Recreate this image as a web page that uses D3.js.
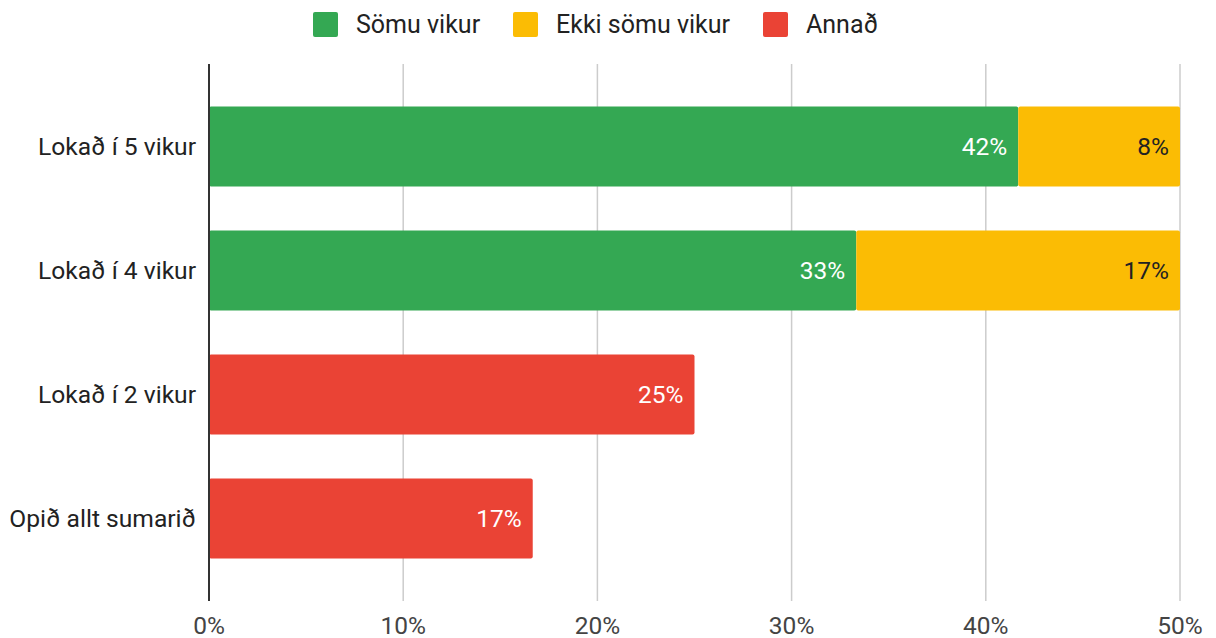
<!DOCTYPE html>
<html>
<head>
<meta charset="utf-8">
<script src="https://cdn.jsdelivr.net/npm/d3@7"></script>
<style>
  body { margin: 0; background: #fff; }
  svg { display: block; font-family: Roboto, "Liberation Sans", Arial, sans-serif; }
</style>
</head>
<body>
<svg id="chart"></svg>
<script>
// data
const categories = ['Lokað í 5 vikur', 'Lokað í 4 vikur', 'Lokað í 2 vikur', 'Opið allt sumarið']
const seriesNames = ['Sömu vikur', 'Ekki sömu vikur', 'Annað']
const someVikur = [41.67, 33.33, 0, 0]
const ekkiSomuVikur = [8.33, 16.67, 0, 0]
const annad = [0, 0, 25, 16.67]
const xTicks = [0, 10, 20, 30, 40, 50]

const colors = ['#34a853', '#fbbc04', '#ea4335']
const labelColors = ['#fff', '#222', '#fff']

const w = 1216
const h = 638
const margin = { top: 64, right: 36, bottom: 37, left: 209 }

const svg = d3.select('#chart')
  .attr('width', w)
  .attr('height', h)

const rows = categories.map((c, i) => ({
  cat: c,
  'Sömu vikur': someVikur[i],
  'Ekki sömu vikur': ekkiSomuVikur[i],
  'Annað': annad[i]
}))
const stacked = d3.stack().keys(seriesNames)(rows)

const xScale = d3.scaleLinear()
  .domain([0, 50])
  .range([margin.left, 1180])

const yScale = d3.scaleBand()
  .domain(categories)
  .range([margin.top, h - margin.bottom])
  .paddingInner(0.355)
  .paddingOuter(0.343)

// gridlines
svg.append('g')
  .selectAll('line')
  .data(xTicks.slice(1))
  .join('line')
    .attr('x1', d => xScale(d))
    .attr('x2', d => xScale(d))
    .attr('y1', margin.top)
    .attr('y2', h - margin.bottom)
    .attr('stroke', '#ccc')
    .attr('stroke-width', 1.5)

// bars
stacked.forEach((s, si) => {
  const g = svg.append('g')
  g.selectAll('rect')
    .data(s.filter(d => d[1] - d[0] > 0))
    .join('rect')
      .attr('x', d => xScale(d[0]))
      .attr('y', d => yScale(d.data.cat))
      .attr('width', d => xScale(d[1]) - xScale(d[0]))
      .attr('height', yScale.bandwidth())
      .attr('rx', 2)
      .attr('fill', colors[si])
  g.selectAll('text')
    .data(s.filter(d => d[1] - d[0] > 0))
    .join('text')
      .attr('x', d => xScale(d[1]) - 11)
      .attr('y', d => yScale(d.data.cat) + yScale.bandwidth() / 2)
      .attr('dy', '0.35em')
      .attr('text-anchor', 'end')
      .attr('font-size', 24.5)
      .attr('fill', labelColors[si])
      .text(d => Math.round(d[1] - d[0]) + '%')
})

// axis line
svg.append('line')
  .attr('x1', xScale(0))
  .attr('x2', xScale(0))
  .attr('y1', margin.top)
  .attr('y2', h - margin.bottom)
  .attr('stroke', '#333')
  .attr('stroke-width', 2)

// x tick labels
svg.append('g')
  .selectAll('text')
  .data(xTicks)
  .join('text')
    .attr('x', d => xScale(d))
    .attr('y', 625)
    .attr('dy', '0.35em')
    .attr('text-anchor', 'middle')
    .attr('font-size', 24.5)
    .attr('fill', '#444')
    .text(d => d + '%')

// category labels
svg.append('g')
  .selectAll('text')
  .data(categories)
  .join('text')
    .attr('x', 196)
    .attr('y', d => yScale(d) + yScale.bandwidth() / 2)
    .attr('dy', '0.35em')
    .attr('text-anchor', 'end')
    .attr('font-size', 24.6)
    .attr('fill', '#222')
    .text(d => d)

// legend
const legendX = [313, 513, 763]
const legend = svg.append('g')
seriesNames.forEach((name, i) => {
  legend.append('rect')
    .attr('x', legendX[i])
    .attr('y', 12)
    .attr('width', 25)
    .attr('height', 25)
    .attr('rx', 2)
    .attr('fill', colors[i])
  legend.append('text')
    .attr('x', legendX[i] + 43)
    .attr('y', 24.5)
    .attr('dy', '0.35em')
    .attr('font-size', 25)
    .attr('fill', '#222')
    .text(name)
})
</script>
</body>
</html>
